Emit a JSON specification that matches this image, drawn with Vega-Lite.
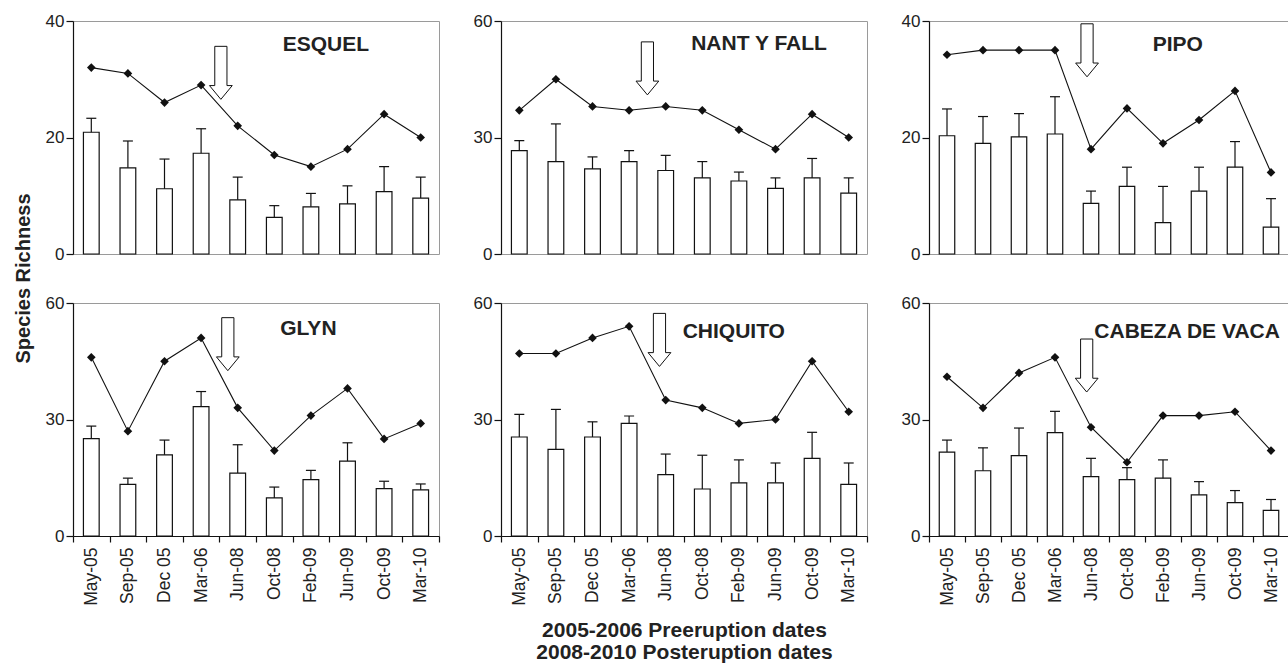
{
 "$schema": "https://vega.github.io/schema/vega-lite/v6.json",
 "padding": {"left": 12, "top": 11, "right": 0, "bottom": 0},
 "columns": 3,
 "spacing": {"row": 49, "column": 62},
 "bounds": "flush",
 "align": "each",
 "datasets": {
  "main": [
   {"site":"ESQUEL","i":0,"date":"May-05","mean":20.9,"upper":23.3,"total":32},
   {"site":"ESQUEL","i":1,"date":"Sep-05","mean":14.8,"upper":19.4,"total":31},
   {"site":"ESQUEL","i":2,"date":"Dec 05","mean":11.2,"upper":16.3,"total":26},
   {"site":"ESQUEL","i":3,"date":"Mar-06","mean":17.3,"upper":21.5,"total":29},
   {"site":"ESQUEL","i":4,"date":"Jun-08","mean":9.3,"upper":13.2,"total":22},
   {"site":"ESQUEL","i":5,"date":"Oct-08","mean":6.3,"upper":8.3,"total":17},
   {"site":"ESQUEL","i":6,"date":"Feb-09","mean":8.1,"upper":10.4,"total":15},
   {"site":"ESQUEL","i":7,"date":"Jun-09","mean":8.6,"upper":11.7,"total":18},
   {"site":"ESQUEL","i":8,"date":"Oct-09","mean":10.7,"upper":15.0,"total":24},
   {"site":"ESQUEL","i":9,"date":"Mar-10","mean":9.6,"upper":13.2,"total":20},
   {"site":"NANT","i":0,"date":"May-05","mean":26.6,"upper":29.2,"total":37},
   {"site":"NANT","i":1,"date":"Sep-05","mean":23.8,"upper":33.5,"total":45},
   {"site":"NANT","i":2,"date":"Dec 05","mean":21.9,"upper":25.0,"total":38},
   {"site":"NANT","i":3,"date":"Mar-06","mean":23.8,"upper":26.6,"total":37},
   {"site":"NANT","i":4,"date":"Jun-08","mean":21.5,"upper":25.4,"total":38},
   {"site":"NANT","i":5,"date":"Oct-08","mean":19.6,"upper":23.8,"total":37},
   {"site":"NANT","i":6,"date":"Feb-09","mean":18.8,"upper":21.1,"total":32},
   {"site":"NANT","i":7,"date":"Jun-09","mean":16.9,"upper":19.6,"total":27},
   {"site":"NANT","i":8,"date":"Oct-09","mean":19.6,"upper":24.6,"total":36},
   {"site":"NANT","i":9,"date":"Mar-10","mean":15.7,"upper":19.6,"total":30},
   {"site":"PIPO","i":0,"date":"May-05","mean":20.3,"upper":24.9,"total":34.2},
   {"site":"PIPO","i":1,"date":"Sep-05","mean":19.0,"upper":23.6,"total":35},
   {"site":"PIPO","i":2,"date":"Dec 05","mean":20.1,"upper":24.1,"total":35},
   {"site":"PIPO","i":3,"date":"Mar-06","mean":20.6,"upper":27.0,"total":35},
   {"site":"PIPO","i":4,"date":"Jun-08","mean":8.7,"upper":10.8,"total":18},
   {"site":"PIPO","i":5,"date":"Oct-08","mean":11.6,"upper":14.9,"total":25},
   {"site":"PIPO","i":6,"date":"Feb-09","mean":5.4,"upper":11.6,"total":19},
   {"site":"PIPO","i":7,"date":"Jun-09","mean":10.8,"upper":14.9,"total":23},
   {"site":"PIPO","i":8,"date":"Oct-09","mean":14.9,"upper":19.3,"total":28},
   {"site":"PIPO","i":9,"date":"Mar-10","mean":4.6,"upper":9.5,"total":14},
   {"site":"GLYN","i":0,"date":"May-05","mean":25.1,"upper":28.3,"total":46},
   {"site":"GLYN","i":1,"date":"Sep-05","mean":13.3,"upper":14.9,"total":27},
   {"site":"GLYN","i":2,"date":"Dec 05","mean":20.9,"upper":24.7,"total":45},
   {"site":"GLYN","i":3,"date":"Mar-06","mean":33.3,"upper":37.2,"total":51},
   {"site":"GLYN","i":4,"date":"Jun-08","mean":16.2,"upper":23.5,"total":33},
   {"site":"GLYN","i":5,"date":"Oct-08","mean":9.8,"upper":12.6,"total":22},
   {"site":"GLYN","i":6,"date":"Feb-09","mean":14.5,"upper":16.9,"total":31},
   {"site":"GLYN","i":7,"date":"Jun-09","mean":19.3,"upper":24.0,"total":38},
   {"site":"GLYN","i":8,"date":"Oct-09","mean":12.2,"upper":14.1,"total":25},
   {"site":"GLYN","i":9,"date":"Mar-10","mean":11.9,"upper":13.4,"total":29},
   {"site":"CHIQUITO","i":0,"date":"May-05","mean":25.5,"upper":31.3,"total":47},
   {"site":"CHIQUITO","i":1,"date":"Sep-05","mean":22.3,"upper":32.6,"total":47},
   {"site":"CHIQUITO","i":2,"date":"Dec 05","mean":25.5,"upper":29.4,"total":51},
   {"site":"CHIQUITO","i":3,"date":"Mar-06","mean":29.0,"upper":30.9,"total":54},
   {"site":"CHIQUITO","i":4,"date":"Jun-08","mean":15.8,"upper":21.1,"total":35},
   {"site":"CHIQUITO","i":5,"date":"Oct-08","mean":12.1,"upper":20.8,"total":33},
   {"site":"CHIQUITO","i":6,"date":"Feb-09","mean":13.7,"upper":19.6,"total":29},
   {"site":"CHIQUITO","i":7,"date":"Jun-09","mean":13.7,"upper":18.8,"total":30},
   {"site":"CHIQUITO","i":8,"date":"Oct-09","mean":20.0,"upper":26.7,"total":45},
   {"site":"CHIQUITO","i":9,"date":"Mar-10","mean":13.3,"upper":18.8,"total":32},
   {"site":"CABEZA","i":0,"date":"May-05","mean":21.6,"upper":24.7,"total":41},
   {"site":"CABEZA","i":1,"date":"Sep-05","mean":16.8,"upper":22.7,"total":33},
   {"site":"CABEZA","i":2,"date":"Dec 05","mean":20.7,"upper":27.8,"total":42},
   {"site":"CABEZA","i":3,"date":"Mar-06","mean":26.6,"upper":32.1,"total":46},
   {"site":"CABEZA","i":4,"date":"Jun-08","mean":15.3,"upper":20.0,"total":28},
   {"site":"CABEZA","i":5,"date":"Oct-08","mean":14.5,"upper":17.6,"total":19},
   {"site":"CABEZA","i":6,"date":"Feb-09","mean":14.9,"upper":19.6,"total":31},
   {"site":"CABEZA","i":7,"date":"Jun-09","mean":10.6,"upper":14.0,"total":31},
   {"site":"CABEZA","i":8,"date":"Oct-09","mean":8.6,"upper":11.7,"total":32},
   {"site":"CABEZA","i":9,"date":"Mar-10","mean":6.6,"upper":9.4,"total":22}
  ],
  "ann": [
   {"site":"ESQUEL","kind":"arrow","xi":3.54,"y":31.1,"label":""},
   {"site":"ESQUEL","kind":"label","xi":6.41,"y":35.9,"label":"ESQUEL"},
   {"site":"NANT","kind":"arrow","xi":3.5,"y":47.8,"label":""},
   {"site":"NANT","kind":"label","xi":6.55,"y":54.0,"label":"NANT Y FALL"},
   {"site":"PIPO","kind":"arrow","xi":3.89,"y":34.97,"label":""},
   {"site":"PIPO","kind":"label","xi":6.41,"y":35.9,"label":"PIPO"},
   {"site":"GLYN","kind":"arrow","xi":3.73,"y":49.4,"label":""},
   {"site":"GLYN","kind":"label","xi":5.93,"y":53.4,"label":"GLYN"},
   {"site":"CHIQUITO","kind":"arrow","xi":3.83,"y":50.5,"label":""},
   {"site":"CHIQUITO","kind":"label","xi":5.86,"y":52.6,"label":"CHIQUITO"},
   {"site":"CABEZA","kind":"arrow","xi":3.88,"y":43.9,"label":""},
   {"site":"CABEZA","kind":"label","xi":6.67,"y":52.6,"label":"CABEZA DE VACA"}
  ]
 },
 "concat": [
  {
   "width": 366, "height": 233,
   "layer": [
    {
     "data": {"name": "main"},
     "transform": [{"filter": "datum.site === 'ESQUEL'"}],
     "encoding": {"x": {"field": "date", "type": "nominal", "scale": {"type": "band", "domain": ["May-05","Sep-05","Dec 05","Mar-06","Jun-08","Oct-08","Feb-09","Jun-09","Oct-09","Mar-10"], "paddingInner": 0, "paddingOuter": 0}, "axis": null}},
     "layer": [
      {"mark": {"type": "bar", "fill": "white", "stroke": "#111", "strokeWidth": 1.2, "width": {"band": 0.43}}, "encoding": {"y": {"field": "mean", "type": "quantitative", "scale": {"domain": [0, 40], "nice": false}, "axis": {"values": [0, 20, 40], "title": null}}}},
      {"mark": {"type": "rule", "color": "#111", "strokeWidth": 1.2}, "encoding": {"y": {"field": "mean", "type": "quantitative", "axis": {"values": [0, 20, 40], "title": null}}, "y2": {"field": "upper"}}},
      {"mark": {"type": "tick", "color": "#111", "size": 10, "thickness": 1.2, "opacity": 1}, "encoding": {"y": {"field": "upper", "type": "quantitative", "axis": {"values": [0, 20, 40], "title": null}}}},
      {"mark": {"type": "line", "color": "#111", "strokeWidth": 1.1}, "encoding": {"y": {"field": "total", "type": "quantitative", "axis": {"values": [0, 20, 40], "title": null}}, "order": {"field": "i", "type": "quantitative"}}},
      {"mark": {"type": "point", "shape": "diamond", "filled": true, "color": "#111", "size": 75, "opacity": 1}, "encoding": {"y": {"field": "total", "type": "quantitative", "axis": {"values": [0, 20, 40], "title": null}}}}
     ]
    },
    {
     "data": {"name": "ann"},
     "transform": [{"filter": "datum.site === 'ESQUEL'"}],
     "encoding": {"x": {"field": "xi", "type": "quantitative", "scale": {"domain": [-0.5, 9.5], "nice": false, "zero": false}, "axis": null}, "y": {"field": "y", "type": "quantitative", "scale": {"domain": [0, 40], "nice": false}, "axis": null}},
     "layer": [
      {"transform": [{"filter": "datum.kind === 'arrow'"}], "mark": {"type": "point", "shape": "M-0.23,-1L0.23,-1L0.23,0.48L0.43,0.48L0,1L-0.43,0.48L-0.23,0.48Z", "size": 2809, "fill": "white", "stroke": "#111", "strokeWidth": 1, "opacity": 1}},
      {"transform": [{"filter": "datum.kind === 'label'"}], "mark": {"type": "text", "fontSize": 21, "fontWeight": "bold", "color": "#222", "baseline": "middle", "align": "center"}, "encoding": {"text": {"field": "label"}}}
     ]
    }
   ],
   "resolve": {"scale": {"x": "independent", "y": "independent"}}
  },
  {
   "width": 366, "height": 233,
   "layer": [
    {
     "data": {"name": "main"},
     "transform": [{"filter": "datum.site === 'NANT'"}],
     "encoding": {"x": {"field": "date", "type": "nominal", "scale": {"type": "band", "domain": ["May-05","Sep-05","Dec 05","Mar-06","Jun-08","Oct-08","Feb-09","Jun-09","Oct-09","Mar-10"], "paddingInner": 0, "paddingOuter": 0}, "axis": null}},
     "layer": [
      {"mark": {"type": "bar", "fill": "white", "stroke": "#111", "strokeWidth": 1.2, "width": {"band": 0.43}}, "encoding": {"y": {"field": "mean", "type": "quantitative", "scale": {"domain": [0, 60], "nice": false}, "axis": {"values": [0, 30, 60], "title": null}}}},
      {"mark": {"type": "rule", "color": "#111", "strokeWidth": 1.2}, "encoding": {"y": {"field": "mean", "type": "quantitative", "axis": {"values": [0, 30, 60], "title": null}}, "y2": {"field": "upper"}}},
      {"mark": {"type": "tick", "color": "#111", "size": 10, "thickness": 1.2, "opacity": 1}, "encoding": {"y": {"field": "upper", "type": "quantitative", "axis": {"values": [0, 30, 60], "title": null}}}},
      {"mark": {"type": "line", "color": "#111", "strokeWidth": 1.1}, "encoding": {"y": {"field": "total", "type": "quantitative", "axis": {"values": [0, 30, 60], "title": null}}, "order": {"field": "i", "type": "quantitative"}}},
      {"mark": {"type": "point", "shape": "diamond", "filled": true, "color": "#111", "size": 75, "opacity": 1}, "encoding": {"y": {"field": "total", "type": "quantitative", "axis": {"values": [0, 30, 60], "title": null}}}}
     ]
    },
    {
     "data": {"name": "ann"},
     "transform": [{"filter": "datum.site === 'NANT'"}],
     "encoding": {"x": {"field": "xi", "type": "quantitative", "scale": {"domain": [-0.5, 9.5], "nice": false, "zero": false}, "axis": null}, "y": {"field": "y", "type": "quantitative", "scale": {"domain": [0, 60], "nice": false}, "axis": null}},
     "layer": [
      {"transform": [{"filter": "datum.kind === 'arrow'"}], "mark": {"type": "point", "shape": "M-0.23,-1L0.23,-1L0.23,0.48L0.43,0.48L0,1L-0.43,0.48L-0.23,0.48Z", "size": 2809, "fill": "white", "stroke": "#111", "strokeWidth": 1, "opacity": 1}},
      {"transform": [{"filter": "datum.kind === 'label'"}], "mark": {"type": "text", "fontSize": 21, "fontWeight": "bold", "color": "#222", "baseline": "middle", "align": "center"}, "encoding": {"text": {"field": "label"}}}
     ]
    }
   ],
   "resolve": {"scale": {"x": "independent", "y": "independent"}}
  },
  {
   "width": 360, "height": 233,
   "layer": [
    {
     "data": {"name": "main"},
     "transform": [{"filter": "datum.site === 'PIPO'"}],
     "encoding": {"x": {"field": "date", "type": "nominal", "scale": {"type": "band", "domain": ["May-05","Sep-05","Dec 05","Mar-06","Jun-08","Oct-08","Feb-09","Jun-09","Oct-09","Mar-10"], "paddingInner": 0, "paddingOuter": 0}, "axis": null}},
     "layer": [
      {"mark": {"type": "bar", "fill": "white", "stroke": "#111", "strokeWidth": 1.2, "width": {"band": 0.43}}, "encoding": {"y": {"field": "mean", "type": "quantitative", "scale": {"domain": [0, 40], "nice": false}, "axis": {"values": [0, 20, 40], "title": null}}}},
      {"mark": {"type": "rule", "color": "#111", "strokeWidth": 1.2}, "encoding": {"y": {"field": "mean", "type": "quantitative", "axis": {"values": [0, 20, 40], "title": null}}, "y2": {"field": "upper"}}},
      {"mark": {"type": "tick", "color": "#111", "size": 10, "thickness": 1.2, "opacity": 1}, "encoding": {"y": {"field": "upper", "type": "quantitative", "axis": {"values": [0, 20, 40], "title": null}}}},
      {"mark": {"type": "line", "color": "#111", "strokeWidth": 1.1}, "encoding": {"y": {"field": "total", "type": "quantitative", "axis": {"values": [0, 20, 40], "title": null}}, "order": {"field": "i", "type": "quantitative"}}},
      {"mark": {"type": "point", "shape": "diamond", "filled": true, "color": "#111", "size": 75, "opacity": 1}, "encoding": {"y": {"field": "total", "type": "quantitative", "axis": {"values": [0, 20, 40], "title": null}}}}
     ]
    },
    {
     "data": {"name": "ann"},
     "transform": [{"filter": "datum.site === 'PIPO'"}],
     "encoding": {"x": {"field": "xi", "type": "quantitative", "scale": {"domain": [-0.5, 9.5], "nice": false, "zero": false}, "axis": null}, "y": {"field": "y", "type": "quantitative", "scale": {"domain": [0, 40], "nice": false}, "axis": null}},
     "layer": [
      {"transform": [{"filter": "datum.kind === 'arrow'"}], "mark": {"type": "point", "shape": "M-0.23,-1L0.23,-1L0.23,0.48L0.43,0.48L0,1L-0.43,0.48L-0.23,0.48Z", "size": 2809, "fill": "white", "stroke": "#111", "strokeWidth": 1, "opacity": 1}},
      {"transform": [{"filter": "datum.kind === 'label'"}], "mark": {"type": "text", "fontSize": 21, "fontWeight": "bold", "color": "#222", "baseline": "middle", "align": "center"}, "encoding": {"text": {"field": "label"}}}
     ]
    }
   ],
   "resolve": {"scale": {"x": "independent", "y": "independent"}}
  },
  {
   "width": 366, "height": 233,
   "layer": [
    {
     "data": {"name": "main"},
     "transform": [{"filter": "datum.site === 'GLYN'"}],
     "encoding": {"x": {"field": "date", "type": "nominal", "scale": {"type": "band", "domain": ["May-05","Sep-05","Dec 05","Mar-06","Jun-08","Oct-08","Feb-09","Jun-09","Oct-09","Mar-10"], "paddingInner": 0, "paddingOuter": 0}, "axis": {"title": null, "labelAngle": -90, "tickBand": "extent", "tickSize": 6, "labelPadding": 5, "labelOverlap": false, "labelFontSize": 17.5}}},
     "layer": [
      {"mark": {"type": "bar", "fill": "white", "stroke": "#111", "strokeWidth": 1.2, "width": {"band": 0.43}}, "encoding": {"y": {"field": "mean", "type": "quantitative", "scale": {"domain": [0, 60], "nice": false}, "axis": {"values": [0, 30, 60], "title": "Species Richness", "titleX": -40, "titleY": -25, "titleAngle": 270, "titleAlign": "center", "titleBaseline": "bottom", "titleFontSize": 20, "titleFontWeight": "bold"}}}},
      {"mark": {"type": "rule", "color": "#111", "strokeWidth": 1.2}, "encoding": {"y": {"field": "mean", "type": "quantitative", "axis": {"values": [0, 30, 60], "title": "Species Richness", "titleX": -40, "titleY": -25, "titleAngle": 270, "titleAlign": "center", "titleBaseline": "bottom", "titleFontSize": 20, "titleFontWeight": "bold"}}, "y2": {"field": "upper"}}},
      {"mark": {"type": "tick", "color": "#111", "size": 10, "thickness": 1.2, "opacity": 1}, "encoding": {"y": {"field": "upper", "type": "quantitative", "axis": {"values": [0, 30, 60], "title": "Species Richness", "titleX": -40, "titleY": -25, "titleAngle": 270, "titleAlign": "center", "titleBaseline": "bottom", "titleFontSize": 20, "titleFontWeight": "bold"}}}},
      {"mark": {"type": "line", "color": "#111", "strokeWidth": 1.1}, "encoding": {"y": {"field": "total", "type": "quantitative", "axis": {"values": [0, 30, 60], "title": "Species Richness", "titleX": -40, "titleY": -25, "titleAngle": 270, "titleAlign": "center", "titleBaseline": "bottom", "titleFontSize": 20, "titleFontWeight": "bold"}}, "order": {"field": "i", "type": "quantitative"}}},
      {"mark": {"type": "point", "shape": "diamond", "filled": true, "color": "#111", "size": 75, "opacity": 1}, "encoding": {"y": {"field": "total", "type": "quantitative", "axis": {"values": [0, 30, 60], "title": "Species Richness", "titleX": -40, "titleY": -25, "titleAngle": 270, "titleAlign": "center", "titleBaseline": "bottom", "titleFontSize": 20, "titleFontWeight": "bold"}}}}
     ]
    },
    {
     "data": {"name": "ann"},
     "transform": [{"filter": "datum.site === 'GLYN'"}],
     "encoding": {"x": {"field": "xi", "type": "quantitative", "scale": {"domain": [-0.5, 9.5], "nice": false, "zero": false}, "axis": null}, "y": {"field": "y", "type": "quantitative", "scale": {"domain": [0, 60], "nice": false}, "axis": null}},
     "layer": [
      {"transform": [{"filter": "datum.kind === 'arrow'"}], "mark": {"type": "point", "shape": "M-0.23,-1L0.23,-1L0.23,0.48L0.43,0.48L0,1L-0.43,0.48L-0.23,0.48Z", "size": 2809, "fill": "white", "stroke": "#111", "strokeWidth": 1, "opacity": 1}},
      {"transform": [{"filter": "datum.kind === 'label'"}], "mark": {"type": "text", "fontSize": 21, "fontWeight": "bold", "color": "#222", "baseline": "middle", "align": "center"}, "encoding": {"text": {"field": "label"}}}
     ]
    }
   ],
   "resolve": {"scale": {"x": "independent", "y": "independent"}}
  },
  {
   "width": 366, "height": 233,
   "layer": [
    {
     "data": {"name": "main"},
     "transform": [{"filter": "datum.site === 'CHIQUITO'"}],
     "encoding": {"x": {"field": "date", "type": "nominal", "scale": {"type": "band", "domain": ["May-05","Sep-05","Dec 05","Mar-06","Jun-08","Oct-08","Feb-09","Jun-09","Oct-09","Mar-10"], "paddingInner": 0, "paddingOuter": 0}, "axis": {"title": ["2005-2006 Preeruption dates", "2008-2010 Posteruption dates"], "titleFontSize": 21, "titleFontWeight": "bold", "titleLineHeight": 22, "titlePadding": 14, "labelAngle": -90, "tickBand": "extent", "tickSize": 6, "labelPadding": 5, "labelOverlap": false, "labelFontSize": 17.5}}},
     "layer": [
      {"mark": {"type": "bar", "fill": "white", "stroke": "#111", "strokeWidth": 1.2, "width": {"band": 0.43}}, "encoding": {"y": {"field": "mean", "type": "quantitative", "scale": {"domain": [0, 60], "nice": false}, "axis": {"values": [0, 30, 60], "title": null}}}},
      {"mark": {"type": "rule", "color": "#111", "strokeWidth": 1.2}, "encoding": {"y": {"field": "mean", "type": "quantitative", "axis": {"values": [0, 30, 60], "title": null}}, "y2": {"field": "upper"}}},
      {"mark": {"type": "tick", "color": "#111", "size": 10, "thickness": 1.2, "opacity": 1}, "encoding": {"y": {"field": "upper", "type": "quantitative", "axis": {"values": [0, 30, 60], "title": null}}}},
      {"mark": {"type": "line", "color": "#111", "strokeWidth": 1.1}, "encoding": {"y": {"field": "total", "type": "quantitative", "axis": {"values": [0, 30, 60], "title": null}}, "order": {"field": "i", "type": "quantitative"}}},
      {"mark": {"type": "point", "shape": "diamond", "filled": true, "color": "#111", "size": 75, "opacity": 1}, "encoding": {"y": {"field": "total", "type": "quantitative", "axis": {"values": [0, 30, 60], "title": null}}}}
     ]
    },
    {
     "data": {"name": "ann"},
     "transform": [{"filter": "datum.site === 'CHIQUITO'"}],
     "encoding": {"x": {"field": "xi", "type": "quantitative", "scale": {"domain": [-0.5, 9.5], "nice": false, "zero": false}, "axis": null}, "y": {"field": "y", "type": "quantitative", "scale": {"domain": [0, 60], "nice": false}, "axis": null}},
     "layer": [
      {"transform": [{"filter": "datum.kind === 'arrow'"}], "mark": {"type": "point", "shape": "M-0.23,-1L0.23,-1L0.23,0.48L0.43,0.48L0,1L-0.43,0.48L-0.23,0.48Z", "size": 2809, "fill": "white", "stroke": "#111", "strokeWidth": 1, "opacity": 1}},
      {"transform": [{"filter": "datum.kind === 'label'"}], "mark": {"type": "text", "fontSize": 21, "fontWeight": "bold", "color": "#222", "baseline": "middle", "align": "center"}, "encoding": {"text": {"field": "label"}}}
     ]
    }
   ],
   "resolve": {"scale": {"x": "independent", "y": "independent"}}
  },
  {
   "width": 360, "height": 233,
   "layer": [
    {
     "data": {"name": "main"},
     "transform": [{"filter": "datum.site === 'CABEZA'"}],
     "encoding": {"x": {"field": "date", "type": "nominal", "scale": {"type": "band", "domain": ["May-05","Sep-05","Dec 05","Mar-06","Jun-08","Oct-08","Feb-09","Jun-09","Oct-09","Mar-10"], "paddingInner": 0, "paddingOuter": 0}, "axis": {"title": null, "labelAngle": -90, "tickBand": "extent", "tickSize": 6, "labelPadding": 5, "labelOverlap": false, "labelFontSize": 17.5}}},
     "layer": [
      {"mark": {"type": "bar", "fill": "white", "stroke": "#111", "strokeWidth": 1.2, "width": {"band": 0.43}}, "encoding": {"y": {"field": "mean", "type": "quantitative", "scale": {"domain": [0, 60], "nice": false}, "axis": {"values": [0, 30, 60], "title": null}}}},
      {"mark": {"type": "rule", "color": "#111", "strokeWidth": 1.2}, "encoding": {"y": {"field": "mean", "type": "quantitative", "axis": {"values": [0, 30, 60], "title": null}}, "y2": {"field": "upper"}}},
      {"mark": {"type": "tick", "color": "#111", "size": 10, "thickness": 1.2, "opacity": 1}, "encoding": {"y": {"field": "upper", "type": "quantitative", "axis": {"values": [0, 30, 60], "title": null}}}},
      {"mark": {"type": "line", "color": "#111", "strokeWidth": 1.1}, "encoding": {"y": {"field": "total", "type": "quantitative", "axis": {"values": [0, 30, 60], "title": null}}, "order": {"field": "i", "type": "quantitative"}}},
      {"mark": {"type": "point", "shape": "diamond", "filled": true, "color": "#111", "size": 75, "opacity": 1}, "encoding": {"y": {"field": "total", "type": "quantitative", "axis": {"values": [0, 30, 60], "title": null}}}}
     ]
    },
    {
     "data": {"name": "ann"},
     "transform": [{"filter": "datum.site === 'CABEZA'"}],
     "encoding": {"x": {"field": "xi", "type": "quantitative", "scale": {"domain": [-0.5, 9.5], "nice": false, "zero": false}, "axis": null}, "y": {"field": "y", "type": "quantitative", "scale": {"domain": [0, 60], "nice": false}, "axis": null}},
     "layer": [
      {"transform": [{"filter": "datum.kind === 'arrow'"}], "mark": {"type": "point", "shape": "M-0.23,-1L0.23,-1L0.23,0.48L0.43,0.48L0,1L-0.43,0.48L-0.23,0.48Z", "size": 2809, "fill": "white", "stroke": "#111", "strokeWidth": 1, "opacity": 1}},
      {"transform": [{"filter": "datum.kind === 'label'"}], "mark": {"type": "text", "fontSize": 21, "fontWeight": "bold", "color": "#222", "baseline": "middle", "align": "center"}, "encoding": {"text": {"field": "label"}}}
     ]
    }
   ],
   "resolve": {"scale": {"x": "independent", "y": "independent"}}
  }
 ],
 "config": {
  "font": "Liberation Sans",
  "view": {"stroke": "#9a9a9a", "strokeWidth": 1},
  "axis": {"grid": false, "domainColor": "#111", "tickColor": "#111", "labelColor": "#222", "labelFontSize": 17, "titleColor": "#222", "labelFlush": false, "domainWidth": 1.2, "tickWidth": 1.2},
  "axisY": {"tickSize": 7, "labelPadding": 2}
 }
}
